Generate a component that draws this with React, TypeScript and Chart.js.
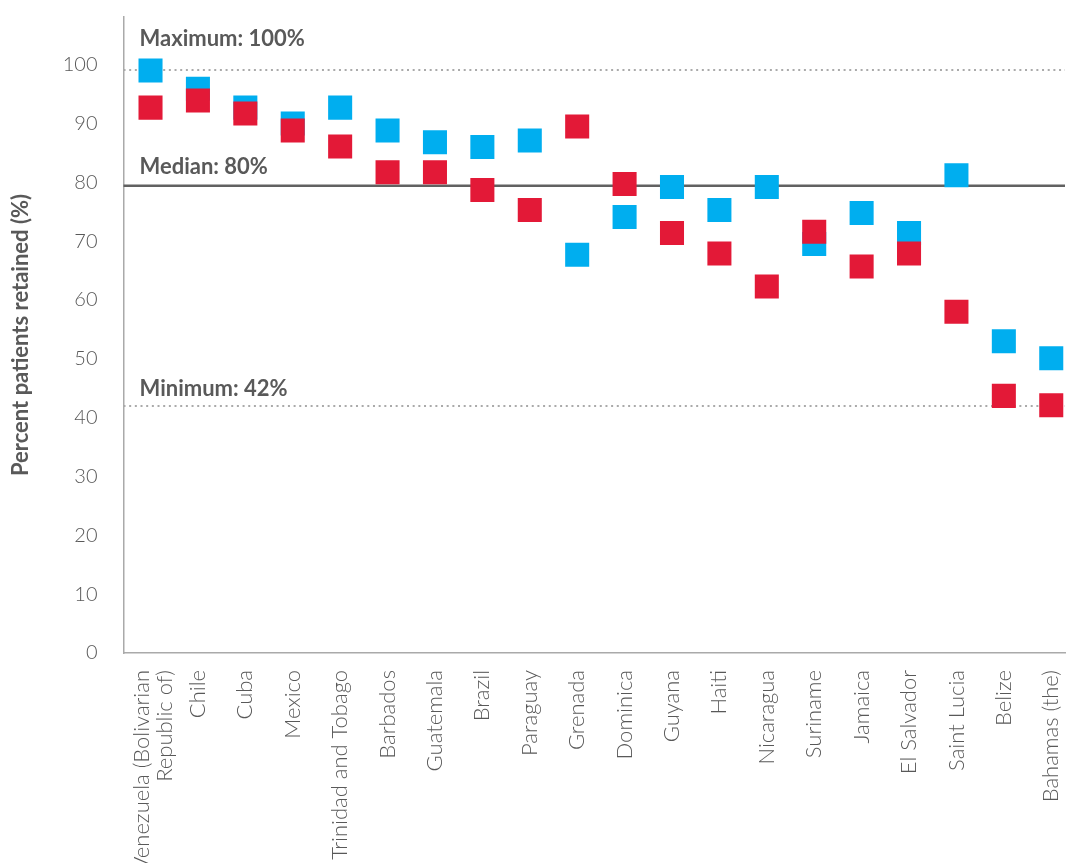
import React, { useEffect, useRef } from "react";
import { Chart, registerables } from "chart.js";

Chart.register(...registerables);

const categories: (string | string[])[] = [
  ["Venezuela (Bolivarian", "Republic of)"],
  "Chile",
  "Cuba",
  "Mexico",
  "Trinidad and Tobago",
  "Barbados",
  "Guatemala",
  "Brazil",
  "Paraguay",
  "Grenada",
  "Dominica",
  "Guyana",
  "Haiti",
  "Nicaragua",
  "Suriname",
  "Jamaica",
  "El Salvador",
  "Saint Lucia",
  "Belize",
  "Bahamas (the)",
];

const blueValues = [99.0, 95.9, 92.7, 90.0, 92.7, 88.8, 86.8, 86.0, 87.1, 67.7, 74.1, 79.2, 75.3, 79.2, 69.5, 74.8, 71.4, 81.2, 53.0, 50.1];
const redValues = [92.7, 93.9, 91.7, 88.8, 86.1, 81.7, 81.7, 78.7, 75.3, 89.5, 79.7, 71.4, 67.9, 62.3, 71.6, 65.7, 67.9, 58.0, 43.7, 42.1];

const yTicks = [0, 10, 20, 30, 40, 50, 60, 70, 80, 90, 100];

const refLabels = ["Maximum: 100%", "Median: 80%", "Minimum: 42%"];
const refValues = [99.1, 79.4, 42.0];
const refStyles = ["dotted", "solid", "dotted"];

const BLUE = "#00AEEF";
const RED = "#E31937";
const TEXT = "#595959";

const refLinePlugin = {
  id: "refLines",
  beforeDatasetsDraw(chart: any) {
    const { ctx, chartArea, scales } = chart;
    const y = scales.y;
    const labelOffsets = [24, 12, 10];
    ctx.save();
    refValues.forEach((v, i) => {
      const py = y.getPixelForValue(v);
      ctx.beginPath();
      if (refStyles[i] === "dotted") {
        ctx.strokeStyle = "#AAAAAA";
        ctx.lineWidth = 2;
        ctx.setLineDash([2, 3.67]);
      } else {
        ctx.strokeStyle = "#616161";
        ctx.lineWidth = 2.5;
        ctx.setLineDash([]);
      }
      ctx.moveTo(chartArea.left, py);
      ctx.lineTo(chartArea.right, py);
      ctx.stroke();
      ctx.setLineDash([]);
      ctx.fillStyle = TEXT;
      ctx.font = "bold 22px Lato";
      ctx.textAlign = "left";
      ctx.textBaseline = "alphabetic";
      ctx.fillText(refLabels[i], chartArea.left + 16, py - labelOffsets[i]);
    });
    ctx.restore();
  },
};

export default function App() {
  const ref = useRef<HTMLCanvasElement | null>(null);
  useEffect(() => {
    if (!ref.current) return;
    const chart = new Chart(ref.current, {
      type: "scatter",
      data: {
        datasets: [
          {
            label: "Red",
            data: redValues.map((v, i) => ({ x: i, y: v })),
            backgroundColor: RED,
            borderWidth: 0,
            pointStyle: "rect",
            pointRadius: 17,
            pointHoverRadius: 17,
          },
          {
            label: "Blue",
            data: blueValues.map((v, i) => ({ x: i, y: v })),
            backgroundColor: BLUE,
            borderWidth: 0,
            pointStyle: "rect",
            pointRadius: 17,
            pointHoverRadius: 17,
          },
        ],
      },
      options: {
        animation: false,
        responsive: true,
        maintainAspectRatio: false,
        layout: { padding: { top: 14, right: 0, left: 0, bottom: 0 } },
        plugins: {
          legend: { display: false },
          tooltip: { enabled: false },
        },
        scales: {
          x: {
            type: "linear",
            min: -0.57,
            max: 19.29,
            grid: { display: false, drawTicks: false },
            border: { display: true, color: "#AAAAAA", width: 1.5 },
            afterBuildTicks: (scale: any) => {
              // multi-line labels are shifted so their lines centre on the category
              scale.ticks = categories.map((c, i) => ({ value: Array.isArray(c) ? i - 0.19 : i }));
            },
            afterFit: (scale: any) => {
              scale.height = 210;
              scale.paddingLeft = 0;
              scale.paddingRight = 0;
            },
            ticks: {
              autoSkip: false,
              minRotation: 90,
              maxRotation: 90,
              padding: 17,
              color: TEXT,
              font: { family: "Lato", size: 22, weight: "300", lineHeight: 1.05 },
              callback: (_value: any, index: number) => categories[index],
            },
          },
          y: {
            min: 0,
            max: 108.1,
            grid: { display: false, drawTicks: false },
            border: { display: true, color: "#AAAAAA", width: 1.5 },
            afterBuildTicks: (scale: any) => {
              scale.ticks = yTicks.map((v) => ({ value: v }));
            },
            afterFit: (scale: any) => {
              scale.width = 123.5;
              scale.paddingTop = 0;
              scale.paddingBottom = 0;
            },
            ticks: {
              padding: 26,
              color: TEXT,
              font: { family: "Lato", size: 20, weight: "300" },
            },
            title: {
              display: true,
              text: "Percent patients retained (%)",
              color: TEXT,
              font: { family: "Lato", size: 22, weight: "bold" },
              padding: { top: 8, bottom: 0 },
            },
          },
        },
      },
      plugins: [refLinePlugin],
    });
    return () => chart.destroy();
  }, []);
  return (
    <div style={{ position: "fixed", left: 0, top: 0, width: 1082, height: 863, background: "#fff" }}>
      <canvas ref={ref} />
    </div>
  );
}
